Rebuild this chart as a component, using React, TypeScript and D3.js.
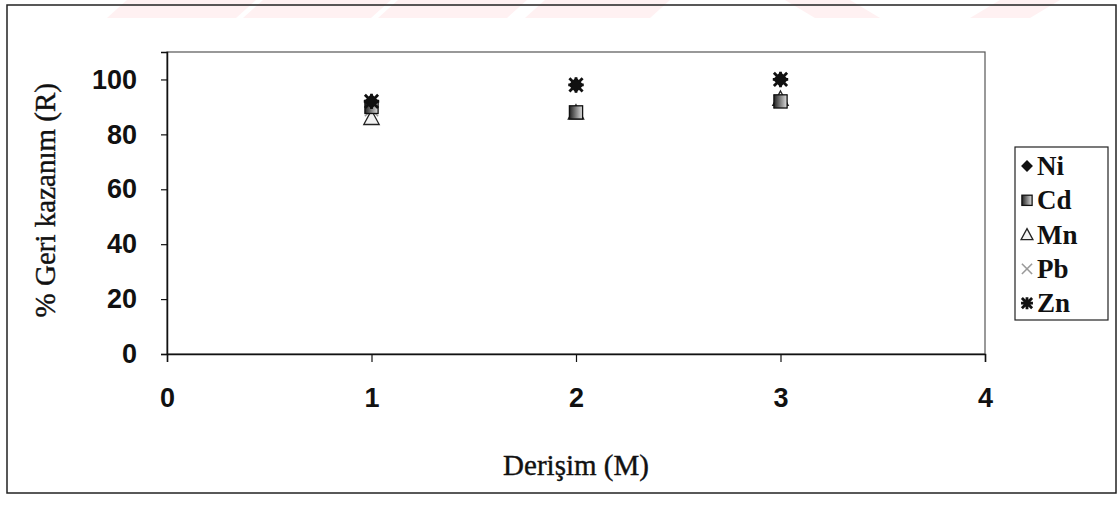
import React, { useEffect, useRef } from 'react';
import * as d3 from 'd3';

const concentrations = [1, 2, 3];
const xTicks = [0, 1, 2, 3, 4];
const yTicks = [0, 20, 40, 60, 80, 100];

const niValues = [92, 98, 100];
const cdValues = [90, 88, 92];
const mnValues = [86, 88, 93];
const pbValues = [89, 88, 92];
const znValues = [92, 98, 100];

const seriesNames = ['Ni', 'Cd', 'Mn', 'Pb', 'Zn'];
const seriesValues = [niValues, cdValues, mnValues, pbValues, znValues];

const W = 1119;
const H = 505;

// draws one marker shape centred at 0,0
function drawMarker(g: d3.Selection<SVGGElement, unknown, null, undefined>, name: string, s = 1) {
  if (name === 'Ni') {
    g.append('path').attr('d', `M0,${-7 * s}L${7 * s},0L0,${7 * s}L${-7 * s},0Z`).attr('fill', '#111');
  } else if (name === 'Cd') {
    g.append('rect').attr('x', -6 * s).attr('y', -6 * s).attr('width', 12 * s).attr('height', 12 * s)
      .attr('fill', 'url(#cd-grad)').attr('stroke', '#111').attr('stroke-width', 1.3);
  } else if (name === 'Mn') {
    g.append('path').attr('d', `M0,${-7 * s}L${7 * s},${6 * s}L${-7 * s},${6 * s}Z`)
      .attr('fill', '#f2f2f2').attr('stroke', '#222').attr('stroke-width', 1.3);
  } else if (name === 'Pb') {
    g.append('path').attr('d', `M${-6 * s},${-6 * s}L${6 * s},${6 * s}M${6 * s},${-6 * s}L${-6 * s},${6 * s}`)
      .attr('stroke', '#9a9a9a').attr('stroke-width', 1.6).attr('fill', 'none');
  } else {
    g.append('path')
      .attr('d', `M${-6 * s},${-6 * s}L${6 * s},${6 * s}M${6 * s},${-6 * s}L${-6 * s},${6 * s}M0,${-7 * s}L0,${7 * s}M${-7 * s},0L${7 * s},0`)
      .attr('stroke', '#111').attr('stroke-width', 2.8).attr('fill', 'none');
  }
}

export default function App() {
  const svgRef = useRef<SVGSVGElement>(null);

  useEffect(() => {
    if (!svgRef.current) return;
    const svg = d3.select(svgRef.current);
    svg.selectAll('*').remove();

    const margin = { top: 52, right: 134, bottom: 151, left: 167 };

    const x = d3.scaleLinear().domain([0, 4]).range([margin.left, W - margin.right]);
    const y = d3.scaleLinear().domain([0, 110]).range([H - margin.bottom, margin.top]);

    const defs = svg.append('defs');
    const grad = defs.append('linearGradient').attr('id', 'cd-grad')
      .attr('x1', '0%').attr('y1', '0%').attr('x2', '100%').attr('y2', '0%');
    grad.append('stop').attr('offset', '0%').attr('stop-color', '#222');
    grad.append('stop').attr('offset', '100%').attr('stop-color', '#e0e0e0');

    svg.append('rect').attr('width', W).attr('height', H).attr('fill', '#fff');

    // faint watermark bands along the top edge
    const bands = [[107, 236], [243, 371], [378, 507], [525, 650]];
    bands.forEach(([a, b]) => {
      svg.append('path')
        .attr('d', `M${a + 20},0L${b + 20},0L${b},18L${a},18Z`)
        .attr('fill', '#fff1f2');
    });
    svg.append('path').attr('d', 'M785,0L850,0L880,18L815,18Z').attr('fill', '#fff1f2');
    svg.append('path').attr('d', 'M1000,0L1060,0L1030,18L970,18Z').attr('fill', '#fff1f2');

    // outer chart border
    svg.append('rect')
      .attr('x', 7).attr('y', 5).attr('width', 1109).attr('height', 488)
      .attr('fill', 'none').attr('stroke', '#222').attr('stroke-width', 1.5);

    // plot area frame
    svg.append('rect')
      .attr('x', x(0)).attr('y', margin.top)
      .attr('width', x(4) - x(0)).attr('height', y(0) - margin.top)
      .attr('fill', 'none').attr('stroke', '#555').attr('stroke-width', 1.2);

    const tickFont = 'Liberation Sans, Arial, sans-serif';
    const serif = 'Liberation Serif, Times New Roman, serif';

    // y axis
    const yAxis = svg.append('g')
      .attr('transform', `translate(${x(0)},0)`)
      .call(d3.axisLeft(y).tickValues(yTicks).tickSize(6).tickPadding(24).tickFormat(d3.format('d')));
    yAxis.select('.domain').attr('stroke', '#111').attr('stroke-width', 1.5);
    yAxis.selectAll('.tick line').attr('stroke', '#111').attr('stroke-width', 1.2);
    yAxis.selectAll('.tick text')
      .attr('font-family', tickFont).attr('font-weight', 'bold').attr('font-size', 27).attr('fill', '#111');

    // x axis
    const xAxis = svg.append('g')
      .attr('transform', `translate(0,${y(0)})`)
      .call(d3.axisBottom(x).tickValues(xTicks).tickSize(8).tickPadding(26).tickFormat(d3.format('d')));
    xAxis.select('.domain').attr('stroke', '#111').attr('stroke-width', 1.5);
    xAxis.selectAll('.tick line').attr('stroke', '#111').attr('stroke-width', 1.2);
    xAxis.selectAll('.tick text')
      .attr('font-family', tickFont).attr('font-weight', 'bold').attr('font-size', 27).attr('fill', '#111');

    // axis titles
    svg.append('text')
      .attr('x', x(2)).attr('y', 475)
      .attr('text-anchor', 'middle')
      .attr('font-family', serif).attr('font-size', 29).attr('fill', '#111')
      .attr('stroke', '#111').attr('stroke-width', 0.4)
      .text('Derişim (M)');

    svg.append('text')
      .attr('transform', `translate(55,${y(56)}) rotate(-90)`)
      .attr('text-anchor', 'middle')
      .attr('font-family', serif).attr('font-size', 29).attr('fill', '#111')
      .attr('stroke', '#111').attr('stroke-width', 0.4)
      .text('% Geri kazanım (R)');

    // data markers, drawn so the dark ones sit on top
    const drawOrder = [2, 3, 1, 0, 4];
    drawOrder.forEach((si) => {
      const name = seriesNames[si];
      seriesValues[si].forEach((v, i) => {
        const g = svg.append('g').attr('transform', `translate(${x(concentrations[i])},${y(v)})`);
        drawMarker(g, name, 1.1);
      });
    });

    // legend
    const legend = svg.append('g');
    legend.append('rect')
      .attr('x', 1015).attr('y', 147).attr('width', 93).attr('height', 173)
      .attr('fill', '#fff').attr('stroke', '#222').attr('stroke-width', 1.2);
    seriesNames.forEach((name, i) => {
      const cy = 166 + i * 34.3;
      const g = legend.append('g').attr('transform', `translate(1027,${cy})`);
      drawMarker(g, name, 0.85);
      legend.append('text')
        .attr('x', 1037).attr('y', cy + 9)
        .attr('font-family', serif).attr('font-weight', 'bold').attr('font-size', 27).attr('fill', '#111')
        .text(name);
    });
  }, []);

  return (
    <svg
      ref={svgRef}
      width={W}
      height={H}
      style={{ position: 'absolute', left: 0, top: 0, display: 'block' }}
    />
  );
}
